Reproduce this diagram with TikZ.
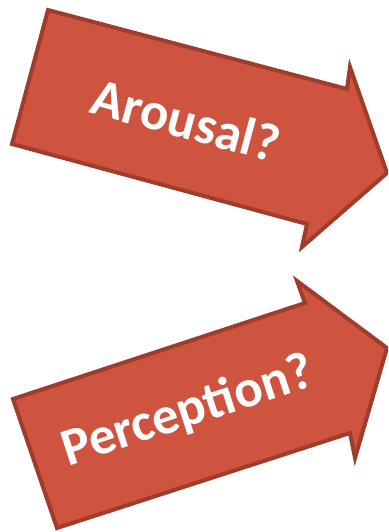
\documentclass[tikz,border=0pt]{standalone}
\usepackage{fontspec}
\setmainfont{Carlito}
\definecolor{arrfill}{HTML}{CF543F}
\definecolor{arrline}{HTML}{A03C2B}
\begin{document}
\begin{tikzpicture}[x=1pt,y=-1pt,
  blockarrow/.style={fill=arrfill,draw=arrline,line width=4pt,line join=miter},
  lbl/.style={text=white,font=\fontsize{53}{60}\selectfont\bfseries,inner sep=0pt}]
\useasboundingbox (0,0) rectangle (388,532);
\begin{scope}
\clip (0,0) rectangle (388,532);
\draw[blockarrow] (48,10) -- (347,89) -- (350,67) -- (387,173) -- (302,247) -- (307,224) -- (12,144) -- cycle;
\draw[blockarrow] (13,399) -- (305,303) -- (297,281) -- (387,348) -- (355,458) -- (350,433) -- (57,528) -- cycle;
\end{scope}
\node[lbl,rotate=-15] (arousal) at (186,120) {Arousal?};
\node[lbl,rotate=18] (perception) at (188,412) {Perception?};
\end{tikzpicture}
\end{document}
